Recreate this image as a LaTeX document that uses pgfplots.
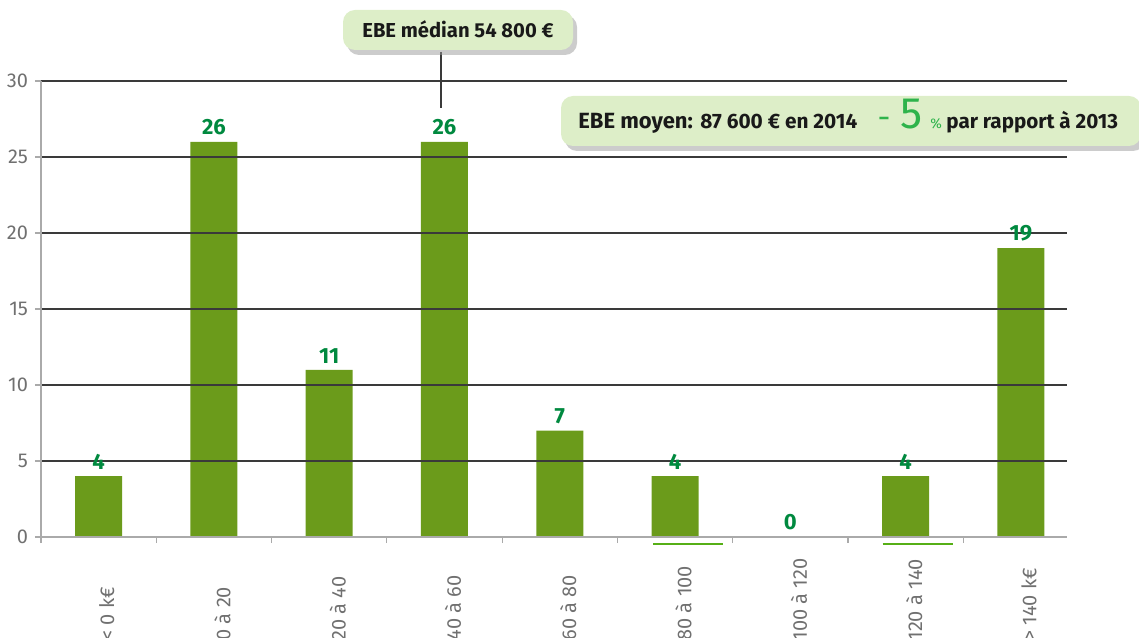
\documentclass[border=0pt]{standalone}
\usepackage{fontspec}
\setmainfont{Fira Sans}
\newfontfamily\lightfont{Fira Sans}
\newfontfamily\condfont{Fira Sans}
\usepackage{pgfplots}
\pgfplotsset{compat=1.18}
\usetikzlibrary{shadows}
\definecolor{barc}{HTML}{6B9B1B}
\definecolor{vlab}{HTML}{00893F}
\definecolor{boxfill}{HTML}{DDEEC8}
\definecolor{gridc}{HTML}{3A3A3A}
\definecolor{axgray}{HTML}{AAAAAA}
\definecolor{tickgray}{HTML}{707070}
\definecolor{five}{HTML}{2EB34B}
\begin{document}
\begin{tikzpicture}
\clip (-20.5pt,-50pt) rectangle (549pt,268.5pt);
\begin{axis}[
  at={(0pt,0pt)}, anchor=south west,
  scale only axis, width=513pt, height=228pt,
  xmin=-0.5, xmax=8.4, ymin=0, ymax=30,
  ybar, bar width=23.5pt,
  axis x line=bottom, axis y line=left,
  axis line style={-, draw=axgray, line width=0.6pt},
  ytick={0,5,...,30}, ymajorgrids,
  grid style={draw=gridc, line width=0.6pt},
  tick align=outside,
  y tick style={draw=axgray, line width=0.6pt},
  major tick length=3pt,
  xtick={-0.5,0.5,...,7.5}, xticklabels={},
  x tick style={draw=axgray, line width=0.6pt},
  extra x ticks={0,1,2,3,4,5,6,7,8},
  extra x tick labels={< 0 k€, 0 à 20, 20 à 40, 40 à 60, 60 à 80, 80 à 100, 100 à 120, 120 à 140, > 140 k€},
  extra x tick style={major tick length=0pt, xmajorgrids=false},
  yticklabel style={font=\lightfont\fontsize{10}{12}\selectfont, text=tickgray},
  xticklabel style={font=\lightfont\fontsize{10}{12}\selectfont, text=tickgray, rotate=90, anchor=north west, inner sep=0pt},
  xticklabel shift=52pt,
  /pgf/number format/assume math mode=true,
  axis on top,
  nodes near coords,
  nodes near coords style={font=\bfseries\fontsize{11}{13}\selectfont, text=vlab, inner sep=3.2pt},
  clip=false,
]
\addplot[fill=barc, draw=none] coordinates {(0,4) (1,26) (2,11) (3,26) (4,7) (5,4) (6,0) (7,4) (8,19)};
\draw[draw=barc!80!green, line width=0.6pt] ([yshift=-3.5pt]axis cs:4.81,0) -- ([yshift=-3.5pt]axis cs:5.42,0);
\draw[draw=barc!80!green, line width=0.6pt] ([yshift=-3.5pt]axis cs:6.80,0) -- ([yshift=-3.5pt]axis cs:7.41,0);
\end{axis}
% median callout
\draw[draw=gridc, line width=0.6pt] (200pt,242.5pt) -- (200pt,214.5pt);
\node[fill=boxfill, rounded corners=6pt, minimum width=115pt, minimum height=20pt, inner sep=0pt,
  drop shadow={shadow xshift=2pt, shadow yshift=-2.5pt, fill=black!40, opacity=0.5}] at (208.5pt,253.5pt) {};
\node[anchor=base west, inner sep=0pt, text=black!90] at (160.5pt,249.5pt) {\condfont\bfseries\fontsize{10.1}{12}\selectfont EBE médian 54 800 €};
% mean callout
\node[fill=boxfill, rounded corners=6pt, minimum width=290pt, minimum height=25pt, inner sep=0pt,
  drop shadow={shadow xshift=2pt, shadow yshift=-2.5pt, fill=black!40, opacity=0.5}] at (405pt,208pt) {};
\node[anchor=base west, inner sep=0pt, text=black!90] at (268.5pt,204pt) {\condfont\bfseries\fontsize{11}{13}\selectfont EBE moyen:};
\node[anchor=base west, inner sep=0pt, text=black!90] at (329.5pt,204pt) {\condfont\bfseries\fontsize{10.4}{12}\selectfont 87 600 € en 2014};
\node[anchor=base, inner sep=0pt, text=five] at (421.5pt,204pt) {\lightfont\fontsize{16}{18}\selectfont -};
\node[anchor=base west, inner sep=0pt, text=five] at (429.5pt,204pt) {\lightfont\fontsize{22}{24}\selectfont 5};
\node[anchor=base west, inner sep=0pt, text=five] at (444.5pt,204pt) {\lightfont\fontsize{7}{8}\selectfont \%};
\node[anchor=base west, inner sep=0pt, text=black!90] at (452.5pt,204pt) {\condfont\bfseries\fontsize{10.3}{12}\selectfont par rapport à 2013};
\end{tikzpicture}
\end{document}
